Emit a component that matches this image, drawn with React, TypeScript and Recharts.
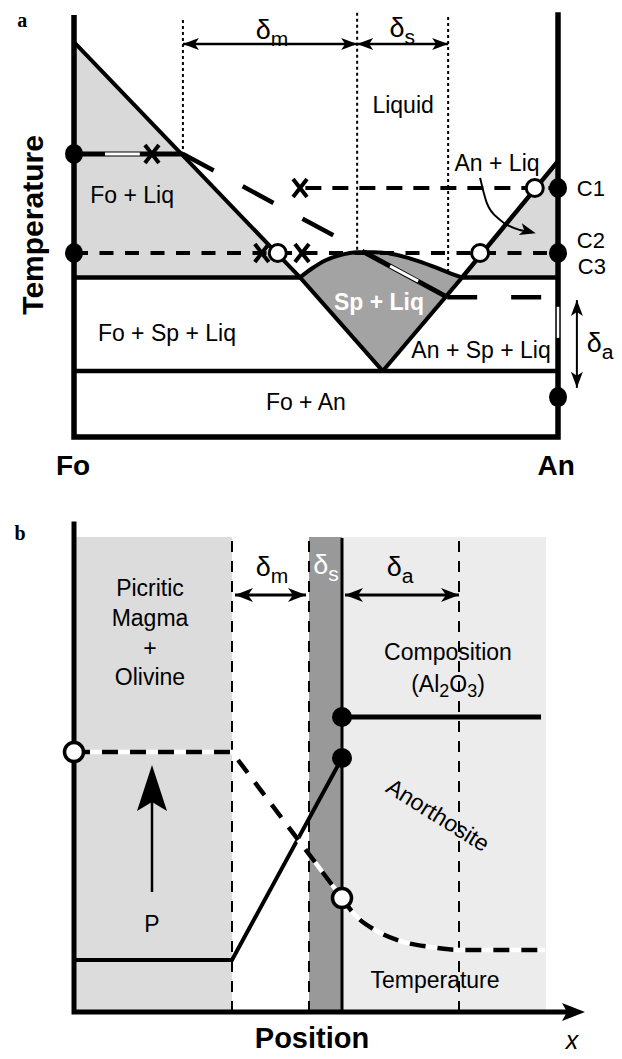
import React from "react";
import { ComposedChart, XAxis, YAxis, Line, Area, Scatter } from "recharts";

const SANS = '"Liberation Sans", Arial, Helvetica, sans-serif';
const SERIF = '"Liberation Serif", "Times New Roman", serif';

type Pt = { x: number; y: number };

// ---------- panel a : Fo (0) .. An (100) vs temperature (0..100) ----------
const foLiqField = [{ x: 0, r: [38, 94] }, { x: 46.7, r: [38, 38] }];
const anLiqField = [{ x: 80.2, r: [38, 38] }, { x: 100, r: [38, 65.7] }];

// spinel + liquid dome: top arc and V-shaped bottom at the same compositions
const domeX = [46.7, 49, 52, 55, 58.5, 62, 63.8, 66, 70, 74, 77.5, 80.2];
const domeTop = [38, 40, 42.1, 43.3, 44, 44, 43.9, 43.5, 42.3, 40.7, 39.1, 38];
const domeBottom = [38, 35, 31.1, 27.2, 22.6, 18, 15.7, 18.7, 24.1, 29.6, 34.3, 38];
const spLiqField = domeX.map((x, i) => ({ x, r: [domeBottom[i], domeTop[i]] }));
const domeArc = domeX.map((x, i) => ({ x, y: domeTop[i] }));

const frameA: Pt[] = [{ x: 0, y: 99.8 }, { x: 0, y: 0 }, { x: 100, y: 0 }, { x: 100, y: 100.5 }];
const foLiquidus: Pt[] = [{ x: 0, y: 94 }, { x: 46.7, y: 38 }, { x: 63.8, y: 15.7 }];
const anSpBoundary: Pt[] = [{ x: 63.8, y: 15.7 }, { x: 80.2, y: 38 }];
const anLiquidus: Pt[] = [{ x: 80.2, y: 38 }, { x: 100, y: 65.7 }];
const eutecticFo: Pt[] = [{ x: 0, y: 38 }, { x: 46.7, y: 38 }];
const eutecticAn: Pt[] = [{ x: 80.2, y: 38 }, { x: 100, y: 38 }];
const solidus: Pt[] = [{ x: 0, y: 15.7 }, { x: 100, y: 15.7 }];

const dotDeltaM: Pt[] = [{ x: 22.5, y: 99.3 }, { x: 22.5, y: 67.4 }];
const dotDeltaS: Pt[] = [{ x: 58.5, y: 101 }, { x: 58.5, y: 44 }];
const dotDeltaE: Pt[] = [{ x: 77.3, y: 100 }, { x: 77.3, y: 39.6 }];

const pathTop: Pt[] = [{ x: 0, y: 67.4 }, { x: 22.5, y: 67.4 }];
const pathDrop: Pt[] = [{ x: 22.5, y: 67.4 }, { x: 60, y: 44 }];
const pathDome: Pt[] = [{ x: 60, y: 44 }, { x: 77.1, y: 33.3 }];
const pathFlat: Pt[] = [{ x: 77.1, y: 33.3 }, { x: 100, y: 33.3 }];
const pathC1: Pt[] = [{ x: 47.8, y: 59.3 }, { x: 100, y: 59.3 }];
const pathC2: Pt[] = [{ x: 0, y: 43.8 }, { x: 100, y: 43.8 }];
const whiteTop: Pt[] = [{ x: 6.4, y: 67.4 }, { x: 13.6, y: 67.4 }];
const whiteDome: Pt[] = [{ x: 65.3, y: 40.7 }, { x: 71.1, y: 37.1 }];
const whiteAn: Pt[] = [{ x: 100, y: 31 }, { x: 100, y: 23.6 }];

const aSolid: Pt[] = [{ x: 0, y: 67.4 }, { x: 0, y: 43.8 }, { x: 100, y: 59.3 }, { x: 100, y: 43.8 }, { x: 100, y: 9.5 }];
const aOpen: Pt[] = [{ x: 95.2, y: 59.3 }, { x: 83.9, y: 43.8 }, { x: 42.1, y: 43.8 }];
const aCross: Pt[] = [{ x: 16.1, y: 67.4 }, { x: 46.7, y: 59.3 }, { x: 38.8, y: 43.8 }, { x: 47.1, y: 43.8 }];

const arrowDeltaM: Pt[] = [{ x: 22.5, y: 93.6 }, { x: 58.5, y: 93.6 }];
const arrowDeltaS: Pt[] = [{ x: 58.5, y: 93.6 }, { x: 77.3, y: 93.6 }];
const arrowDeltaA: Pt[] = [{ x: 103.9, y: 32.6 }, { x: 103.9, y: 11.7 }];
const arrowCurl: Pt[] = [{ x: 83.9, y: 61.7 }, { x: 85.3, y: 55.7 }, { x: 88, y: 51.7 }, { x: 92.1, y: 49.3 }, { x: 93.8, y: 48.9 }];
const aHeads = [
  { x: 22.5, y: 93.6, angle: 180, kind: "thin" },
  { x: 58.5, y: 93.6, angle: 0, kind: "thin" },
  { x: 58.5, y: 93.6, angle: 180, kind: "thin" },
  { x: 77.3, y: 93.6, angle: 0, kind: "thin" },
  { x: 103.9, y: 32.6, angle: -90, kind: "thin" },
  { x: 103.9, y: 11.7, angle: 90, kind: "thin" },
  { x: 95.4, y: 48.5, angle: 15, kind: "thin" },
];

const aLabels = [
  { x: 68, y: 79, text: "Liquid", kind: "reg" },
  { x: 87.4, y: 65.2, text: "An + Liq", kind: "reg" },
  { x: 12, y: 57.6, text: "Fo + Liq", kind: "reg" },
  { x: 19.2, y: 24.8, text: "Fo + Sp + Liq", kind: "reg" },
  { x: 63, y: 32.1, text: "Sp + Liq", kind: "white" },
  { x: 84.1, y: 20.7, text: "An + Sp + Liq", kind: "reg" },
  { x: 47.9, y: 8.3, text: "Fo + An", kind: "reg" },
  { x: 106.8, y: 59.3, text: "C1", kind: "small" },
  { x: 106.8, y: 46.9, text: "C2", kind: "small" },
  { x: 107, y: 40.7, text: "C3", kind: "small" },
  { x: 40.9, y: 96.9, text: "δ_m", kind: "delta" },
  { x: 67.8, y: 97.4, text: "δ_s", kind: "delta" },
  { x: 108.7, y: 22.4, text: "δ_a", kind: "delta" },
  { x: -8.7, y: 50.5, text: "Temperature", kind: "axis", rot: -90 },
  { x: -0.2, y: -6.7, text: "Fo", kind: "end" },
  { x: 99.6, y: -6.7, text: "An", kind: "end" },
  { x: -10.7, y: 99.3, text: "a", kind: "panel" },
];

// ---------- panel b : position (x) profile across the reaction zone ----------
const magmaZone = [{ x: 0, r: [0, 95] }, { x: 31.6, r: [0, 95] }];
const spinelBand = [{ x: 47, r: [0, 95] }, { x: 53.6, r: [0, 95] }];
const anorthZone = [{ x: 53.6, r: [0, 95] }, { x: 94.4, r: [0, 95] }];

const frameB: Pt[] = [{ x: 0, y: 97.6 }, { x: 0, y: 0 }, { x: 100, y: 0 }];
const edgeM: Pt[] = [{ x: 31.6, y: 0 }, { x: 31.6, y: 95 }];
const edgeS: Pt[] = [{ x: 47, y: 0 }, { x: 47, y: 95 }];
const edgeA: Pt[] = [{ x: 77, y: 0 }, { x: 77, y: 95 }];
const contact: Pt[] = [{ x: 53.6, y: 0 }, { x: 53.6, y: 94.8 }];
const composition: Pt[] = [{ x: 53.6, y: 59 }, { x: 93.4, y: 59 }];
const anorthProfile: Pt[] = [{ x: 0, y: 10.4 }, { x: 31.6, y: 10.4 }, { x: 53.6, y: 50.8 }];
const tempStraight: Pt[] = [{ x: 0, y: 52 }, { x: 31.6, y: 52 }, { x: 53.6, y: 22.8 }];
const tempDecay: Pt[] = [
  { x: 53.6, y: 22.8 }, { x: 56.2, y: 19.4 }, { x: 60.2, y: 16.4 }, { x: 65.2, y: 14.2 },
  { x: 71.2, y: 13 }, { x: 77.2, y: 12.4 }, { x: 94.2, y: 12.4 },
];

const bSolid: Pt[] = [{ x: 53.6, y: 59 }, { x: 53.6, y: 50.8 }];
const bOpen: Pt[] = [{ x: 0, y: 52 }, { x: 53.6, y: 22.8 }];

const arrowBm: Pt[] = [{ x: 32.2, y: 83.4 }, { x: 46.4, y: 83.4 }];
const arrowBa: Pt[] = [{ x: 54.2, y: 83.4 }, { x: 77, y: 83.4 }];
const arrowP: Pt[] = [{ x: 15.6, y: 24 }, { x: 15.6, y: 42 }];
const bHeads = [
  { x: 32.2, y: 83.4, angle: 180, kind: "mid" },
  { x: 46.4, y: 83.4, angle: 0, kind: "mid" },
  { x: 54.2, y: 83.4, angle: 180, kind: "mid" },
  { x: 77, y: 83.4, angle: 0, kind: "mid" },
  { x: 15.6, y: 49.4, angle: -90, kind: "big" },
  { x: 102.2, y: 0, angle: 0, kind: "axis" },
];

const bLabels = [
  { x: -10.8, y: 95.8, text: "b", kind: "panel" },
  { x: 15.2, y: 84.8, text: "Picritic", kind: "reg" },
  { x: 15.2, y: 78.8, text: "Magma", kind: "reg" },
  { x: 15.2, y: 72.8, text: "+", kind: "reg" },
  { x: 15.2, y: 67, text: "Olivine", kind: "reg" },
  { x: 39.6, y: 89, text: "δ_m", kind: "delta" },
  { x: 50.4, y: 89.4, text: "δ_s", kind: "deltaW" },
  { x: 65.2, y: 89, text: "δ_a", kind: "delta" },
  { x: 74.8, y: 72, text: "Composition", kind: "reg" },
  { x: 74.8, y: 65.6, text: "(Al_2O_3)", kind: "reg" },
  { x: 15.6, y: 17.6, text: "P", kind: "reg" },
  { x: 72.8, y: 39.4, text: "Anorthosite", kind: "reg", rot: 32 },
  { x: 72.2, y: 6.4, text: "Temperature", kind: "reg" },
  { x: 47.6, y: -5.1, text: "Position", kind: "axisB" },
  { x: 99.6, y: -5.6, text: "x", kind: "italic" },
];

// axis windows: the whole 622 px wide canvas of each panel in data units
const A_X: [number, number] = [-15.29, 113.22];
const A_Y: [number, number] = [-15, 104.05];
const B_X: [number, number] = [-14.8, 109.6];
const B_Y: [number, number] = [-9.4, 102.4];

const LIGHT = "#d9d9d9";
const SP_GREY = "#a3a3a3";

const LABEL_STYLE: Record<string, any> = {
  reg: { size: 23, weight: 400, fill: "#000", family: SANS },
  white: { size: 23, weight: 700, fill: "#fff", family: SANS },
  small: { size: 22, weight: 400, fill: "#000", family: SANS },
  delta: { size: 27, weight: 400, fill: "#000", family: SANS },
  deltaW: { size: 27, weight: 400, fill: "#fff", family: SANS },
  axis: { size: 30, weight: 700, fill: "#000", family: SANS },
  axisB: { size: 29, weight: 700, fill: "#000", family: SANS },
  end: { size: 28, weight: 700, fill: "#000", family: SANS },
  panel: { size: 20, weight: 700, fill: "#000", family: SERIF },
  italic: { size: 25, weight: 400, fill: "#000", family: SANS, style: "italic" },
};

const HEAD_SIZE: Record<string, { len: number; half: number; notch: number }> = {
  thin: { len: 16, half: 6, notch: 4 },
  mid: { len: 18, half: 7, notch: 5 },
  big: { len: 46, half: 15, notch: 9 },
  axis: { len: 23, half: 9, notch: 5 },
};

function rich(str: string, size: number) {
  const out: React.ReactNode[] = [];
  let down = false;
  str.split(/(_.)/).forEach((piece, k) => {
    if (!piece) return;
    if (piece.length === 2 && piece[0] === "_") {
      out.push(
        <tspan key={k} fontSize={size * 0.78} dy={down ? 0 : size * 0.3}>
          {piece[1]}
        </tspan>
      );
      down = true;
    } else {
      out.push(
        <tspan key={k} dy={down ? -size * 0.3 : 0}>
          {piece}
        </tspan>
      );
      down = false;
    }
  });
  return out;
}

const labelShape = (p: any) => {
  const d = p.payload;
  const st = LABEL_STYLE[d.kind];
  return (
    <text
      x={p.cx}
      y={p.cy}
      textAnchor="middle"
      dominantBaseline="central"
      fontFamily={st.family}
      fontSize={st.size}
      fontWeight={st.weight}
      fontStyle={st.style || "normal"}
      fill={st.fill}
      transform={d.rot ? `rotate(${d.rot} ${p.cx} ${p.cy})` : undefined}
    >
      {rich(d.text, st.size)}
    </text>
  );
};

const headShape = (p: any) => {
  const d = p.payload;
  const s = HEAD_SIZE[d.kind];
  const pts = `0,0 ${-s.len},${-s.half} ${-s.len + s.notch},0 ${-s.len},${s.half}`;
  return <polygon points={pts} fill="#000" transform={`translate(${p.cx},${p.cy}) rotate(${d.angle})`} />;
};

const solidDotA = (p: any) => <ellipse cx={p.cx} cy={p.cy} rx={9} ry={10} fill="#000" />;
const openDotA = (p: any) => <circle cx={p.cx} cy={p.cy} r={8.5} fill="#fff" stroke="#000" strokeWidth={3} />;
const solidDotB = (p: any) => <circle cx={p.cx} cy={p.cy} r={10} fill="#000" />;
const openDotB = (p: any) => <circle cx={p.cx} cy={p.cy} r={9.5} fill="#fff" stroke="#000" strokeWidth={3.5} />;
const crossShape = (p: any) => (
  <g stroke="#000" strokeWidth={4}>
    <line x1={p.cx - 7} y1={p.cy - 9} x2={p.cx + 7} y2={p.cy + 9} />
    <line x1={p.cx + 7} y1={p.cy - 9} x2={p.cx - 7} y2={p.cy + 9} />
  </g>
);

function stroke(
  data: Pt[],
  width: number,
  color = "#000",
  dash?: string,
  curve: "linear" | "monotone" = "linear",
  cap: "butt" | "square" = "butt"
) {
  return (
    <Line
      data={data}
      dataKey="y"
      type={curve}
      stroke={color}
      strokeWidth={width}
      strokeDasharray={dash}
      strokeLinecap={cap}
      strokeLinejoin="miter"
      dot={false}
      activeDot={false}
      legendType="none"
      isAnimationActive={false}
    />
  );
}

function field(data: any[], color: string) {
  return (
    <Area
      data={data}
      dataKey="r"
      type="linear"
      fill={color}
      fillOpacity={1}
      stroke="none"
      dot={false}
      activeDot={false}
      legendType="none"
      isAnimationActive={false}
    />
  );
}

function marks(data: any[], shape: (p: any) => React.ReactElement) {
  return <Scatter data={data} dataKey="y" shape={shape} legendType="none" isAnimationActive={false} />;
}

function PanelA() {
  return (
    <ComposedChart width={622} height={500} margin={{ top: 0, right: 0, bottom: 0, left: 0 }}>
      <XAxis type="number" dataKey="x" domain={A_X} hide />
      <YAxis type="number" dataKey="y" domain={A_Y} hide />
      {field(foLiqField, LIGHT)}
      {field(anLiqField, LIGHT)}
      {field(spLiqField, SP_GREY)}

      {stroke(dotDeltaM, 2, "#000", "3 3")}
      {stroke(dotDeltaS, 2, "#000", "3 3")}
      {stroke(dotDeltaE, 2, "#000", "3 3")}

      {stroke(eutecticFo, 4.5)}
      {stroke(eutecticAn, 4.5)}
      {stroke(solidus, 4.5)}
      {stroke(foLiquidus, 4)}
      {stroke(anSpBoundary, 4)}
      {stroke(anLiquidus, 4.5)}
      {stroke(domeArc, 4, "#000", undefined, "monotone")}
      {stroke(frameA, 5.5, "#000", undefined, "linear", "square")}

      {stroke(pathC2, 4, "#000", "14 11.5")}
      {stroke(pathC1, 4, "#000", "16 11")}
      {stroke(pathTop, 5)}
      {stroke(pathDrop, 4.5, "#000", "35 33")}
      {stroke(pathDome, 5)}
      {stroke(pathFlat, 4.5, "#000", "30 34")}
      {stroke(whiteTop, 3, "#fff")}
      {stroke(whiteDome, 3, "#fff")}
      {stroke(whiteAn, 2.5, "#fff")}

      {stroke(arrowDeltaM, 2.5)}
      {stroke(arrowDeltaS, 2.5)}
      {stroke(arrowDeltaA, 2)}
      {stroke(arrowCurl, 2, "#000", undefined, "monotone")}
      {marks(aHeads, headShape)}

      {marks(aCross, crossShape)}
      {marks(aOpen, openDotA)}
      {marks(aSolid, solidDotA)}
      {marks(aLabels, labelShape)}
    </ComposedChart>
  );
}

function PanelB() {
  return (
    <ComposedChart width={622} height={559} margin={{ top: 0, right: 0, bottom: 0, left: 0 }}>
      <XAxis type="number" dataKey="x" domain={B_X} hide />
      <YAxis type="number" dataKey="y" domain={B_Y} hide />
      {field(magmaZone, "#dcdcdc")}
      {field(anorthZone, "#ececec")}
      {field(spinelBand, "#999999")}

      {stroke(edgeM, 2, "#000", "11 9")}
      {stroke(edgeS, 2, "#000", "11 9")}
      {stroke(edgeA, 2, "#000", "11 9")}
      {stroke(contact, 3)}

      {stroke(composition, 5)}
      {stroke(anorthProfile, 4)}
      {stroke(tempStraight, 4.5, "#fff")}
      {stroke(tempDecay, 4.5, "#fff", undefined, "monotone")}
      {stroke(tempStraight, 4.5, "#000", "16 12")}
      {stroke(tempDecay, 4.5, "#000", "16 12", "monotone")}
      {stroke(frameB, 5, "#000", undefined, "linear", "square")}

      {stroke(arrowBm, 3)}
      {stroke(arrowBa, 3)}
      {stroke(arrowP, 2.5)}
      {marks(bHeads, headShape)}

      {marks(bOpen, openDotB)}
      {marks(bSolid, solidDotB)}
      {marks(bLabels, labelShape)}
    </ComposedChart>
  );
}

export default function App() {
  return (
    <div style={{ position: "absolute", left: 0, top: 0, width: 622, height: 1059, background: "#fff" }}>
      <PanelA />
      <PanelB />
    </div>
  );
}
